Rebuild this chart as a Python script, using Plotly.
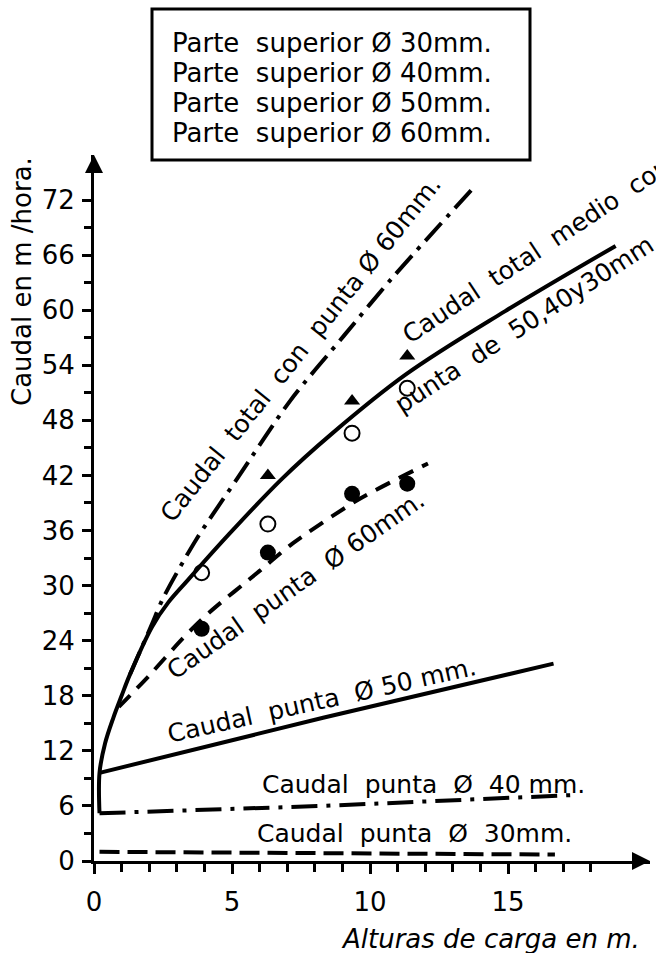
import plotly.graph_objects as go

# ---------------- data ----------------
# Caudal total medio (solid curve)
total_medio_x = [0.2, 0.2, 0.4, 0.7, 1.0, 1.3, 2.1, 2.7, 3.4, 4.8, 6.8, 8.6, 11.3, 14.9, 18.9]
total_medio_y = [5.2, 9.6, 12.8, 15.6, 18.0, 20.3, 25.5, 28.2, 30.6, 35.3, 41.6, 46.5, 53.0, 59.9, 67.0]

# Caudal total con punta 60 mm (dash-dot)
total_60_x = [1.3, 2.1, 2.5, 3.7, 5.2, 7.1, 9.05, 10.8, 13.8]
total_60_y = [20.3, 25.8, 28.6, 35.0, 41.7, 50.1, 57.2, 63.5, 73.5]

# Caudal punta 60 mm (dashed)
punta_60_x = [0.9, 2.0, 3.2, 4.15, 6.0, 7.2, 9.6, 12.1]
punta_60_y = [16.8, 20.2, 24.2, 27.0, 31.6, 34.6, 39.4, 43.3]

# Caudal punta 50 mm (solid straight)
punta_50_x = [0.2, 8.3, 16.65]
punta_50_y = [9.6, 15.6, 21.5]

# Caudal punta 40 mm (dash-dot)
punta_40_x = [0.2, 8.3, 17.5]
punta_40_y = [5.2, 6.0, 7.2]

# Caudal punta 30 mm (dashed)
punta_30_x = [0.2, 8.0, 16.7]
punta_30_y = [1.0, 0.9, 0.7]

# measured points
meas_x = [3.9, 6.3, 9.35, 11.35]
open_circle_y = [31.4, 36.7, 46.6, 51.5]
filled_circle_y = [25.3, 33.6, 40.0, 41.1]
tri_x = [6.3, 9.35, 11.35]
tri_y = [42.0, 50.1, 55.0]

x_major = [0, 5, 10, 15]
x_minor = [v for v in range(1, 19) if v % 5 != 0]
y_major = list(range(0, 73, 6))
y_minor = list(range(3, 70, 6))

legend_lines = [
    "Parte  superior Ø 30mm.",
    "Parte  superior Ø 40mm.",
    "Parte  superior Ø 50mm.",
    "Parte  superior Ø 60mm.",
]

# ---------------- layout geometry ----------------
W, H = 656, 953
L, R, T, B = 94, 6, 155, 92
XMAX = (W - R - L) / 27.6
YMAX = (H - B - T) / 9.18
FONT = "DejaVu Sans"
BLACK = "#000000"


def px(xp):
    return (xp - L) / (W - L - R)


def py(yp):
    return (H - B - yp) / (H - B - T)


fig = go.Figure()

lw = 4
fig.add_trace(go.Scatter(x=total_medio_x, y=total_medio_y, mode="lines",
                         line=dict(color=BLACK, width=lw, shape="spline", smoothing=1.0)))
fig.add_trace(go.Scatter(x=total_60_x, y=total_60_y, mode="lines",
                         line=dict(color=BLACK, width=lw, shape="spline", smoothing=0.8,
                                   dash="24px,8px,4px,8px")))
fig.add_trace(go.Scatter(x=punta_60_x, y=punta_60_y, mode="lines",
                         line=dict(color=BLACK, width=lw, shape="spline", smoothing=0.8,
                                   dash="16px,10px")))
fig.add_trace(go.Scatter(x=punta_50_x, y=punta_50_y, mode="lines",
                         line=dict(color=BLACK, width=lw)))
fig.add_trace(go.Scatter(x=punta_40_x, y=punta_40_y, mode="lines",
                         line=dict(color=BLACK, width=lw, dash="26px,9px,4px,9px")))
fig.add_trace(go.Scatter(x=punta_30_x, y=punta_30_y, mode="lines",
                         line=dict(color=BLACK, width=lw, dash="20px,8px")))

fig.add_trace(go.Scatter(x=meas_x, y=open_circle_y, mode="markers",
                         marker=dict(symbol="circle-open", size=15, color=BLACK,
                                     line=dict(width=2, color=BLACK))))
fig.add_trace(go.Scatter(x=meas_x, y=filled_circle_y, mode="markers",
                         marker=dict(symbol="circle", size=16, color=BLACK)))
fig.add_trace(go.Scatter(x=tri_x, y=tri_y, mode="markers",
                         marker=dict(symbol="triangle-up", size=14, color=BLACK)))

tick_font = dict(family=FONT, size=26, color=BLACK)
fig.update_xaxes(range=[0, XMAX], showline=True, linewidth=3, linecolor=BLACK,
                 showgrid=False, zeroline=False, tickmode="array", tickvals=x_major,
                 ticks="outside", ticklen=10, tickwidth=2.5, tickcolor=BLACK,
                 tickfont=tick_font, ticklabelstandoff=6,
                 minor=dict(tickmode="array", tickvals=x_minor, ticks="outside",
                            ticklen=8, tickwidth=2.5, tickcolor=BLACK, showgrid=False))
fig.update_yaxes(range=[0, YMAX], showline=True, linewidth=3, linecolor=BLACK,
                 showgrid=False, zeroline=False, tickmode="array", tickvals=y_major,
                 ticks="outside", ticklen=9, tickwidth=2.5, tickcolor=BLACK,
                 tickfont=tick_font, ticklabelstandoff=2,
                 minor=dict(tickmode="array", tickvals=y_minor, ticks="outside",
                            ticklen=7, tickwidth=2.5, tickcolor=BLACK, showgrid=False))

ann = []
# axis arrows
ann.append(dict(x=1.0, y=0, xref="paper", yref="paper", ax=-14, ay=0,
                showarrow=True, arrowhead=2, arrowsize=1.2, arrowwidth=3, arrowcolor=BLACK, text=""))
ann.append(dict(x=0, y=1.0, xref="paper", yref="paper", ax=0, ay=14,
                showarrow=True, arrowhead=2, arrowsize=1.2, arrowwidth=3, arrowcolor=BLACK, text=""))

curve_font = dict(family=FONT, size=25, color=BLACK)


def label(text, xp, yp, angle, font=curve_font):
    ann.append(dict(text=text, x=px(xp), y=py(yp), xref="paper", yref="paper",
                    xanchor="center", yanchor="middle", textangle=angle,
                    showarrow=False, font=font))


label("Caudal  total  con  punta Ø 60mm.", 300, 349, -51.5)
label("Caudal  total  medio  con", 536, 250, -33.5)
label("punta  de  50,40y30mm.", 527, 322, -33)
label("Caudal  punta  Ø 60mm.", 295, 585, -35)
label("Caudal  punta  Ø 50 mm.", 321, 700, -12.5)
label("Caudal  punta  Ø  40 mm.", 423, 784, 0)
label("Caudal  punta  Ø  30mm.", 414, 833, 0)

# axis titles
label("Caudal en m /hora.", 22, 282, -90, dict(family=FONT, size=26, color=BLACK))
label("<i>Alturas de carga en m.</i>", 490, 939, 0, dict(family=FONT, size=26, color=BLACK))

# legend box text
for i, t in enumerate(legend_lines):
    ann.append(dict(text=t, x=px(170), y=py(43 + i * 30), xref="paper", yref="paper",
                    xanchor="left", yanchor="middle", showarrow=False,
                    font=dict(family=FONT, size=26, color=BLACK)))

fig.update_layout(
    width=W, height=H,
    margin=dict(l=L, r=R, t=T, b=B),
    paper_bgcolor="white", plot_bgcolor="white",
    showlegend=False,
    annotations=ann,
    shapes=[dict(type="rect", xref="paper", yref="paper",
                 x0=px(152), x1=px(530), y0=py(160), y1=py(9),
                 line=dict(color=BLACK, width=3))],
)

fig.write_html("out.html")
